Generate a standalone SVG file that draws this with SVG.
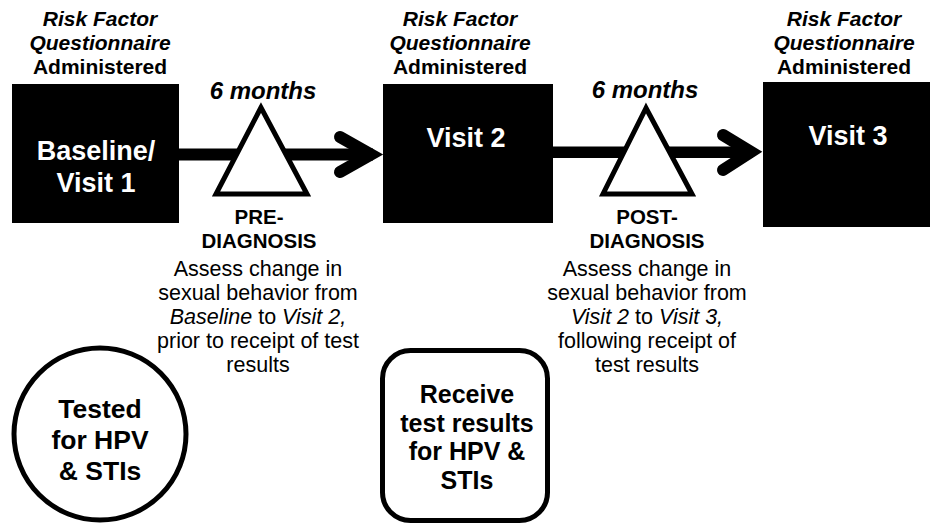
<svg xmlns="http://www.w3.org/2000/svg" width="930" height="524" viewBox="0 0 930 524">
<style>
text{font-family:"Liberation Sans",Arial,sans-serif;text-anchor:middle;fill:#000}
.hdr{font-size:21px;font-weight:bold}
.it{font-style:italic}
.mo{font-size:24px;font-weight:bold;font-style:italic}
.box{fill:#000}
.boxt{font-size:27px;font-weight:bold;fill:#fff}
.lbl{font-size:20.5px;font-weight:bold}
.body{font-size:21.5px}
.tri{fill:#fff;stroke:#000;stroke-width:5;stroke-linejoin:miter}
.shaft{fill:#000}
.head{fill:none;stroke:#000;stroke-width:12;stroke-linecap:round;stroke-linejoin:miter}
.ring{fill:#fff;stroke:#000;stroke-width:5}
.bt{font-size:26.5px;font-weight:bold}
.rt{font-size:25px;font-weight:bold}
</style>
<g id="connectors">
<rect class="shaft" x="178" y="148.5" width="195" height="12"/>
<polyline class="head" points="340,137 371,154.5 340,172"/>
<rect class="shaft" x="552" y="146.5" width="201" height="11.5"/>
<polyline class="head" points="723,135 751,152 723,170"/>
</g>
<g id="visit1">
<text class="hdr" x="100" y="26"><tspan class="it">Risk Factor</tspan><tspan class="it" x="100" dy="24">Questionnaire</tspan><tspan x="100" dy="24">Administered</tspan></text>
<rect class="box" x="12" y="84" width="167" height="139"/>
<text class="boxt" x="96" y="160">Baseline/<tspan x="96" dy="32">Visit 1</tspan></text>
</g>
<g id="visit2">
<text class="hdr" x="460" y="26"><tspan class="it">Risk Factor</tspan><tspan class="it" x="460" dy="24">Questionnaire</tspan><tspan x="460" dy="24">Administered</tspan></text>
<rect class="box" x="383" y="84" width="170" height="139"/>
<text class="boxt" x="466" y="147">Visit 2</text>
</g>
<g id="visit3">
<text class="hdr" x="844" y="26"><tspan class="it">Risk Factor</tspan><tspan class="it" x="844" dy="24">Questionnaire</tspan><tspan x="844" dy="24">Administered</tspan></text>
<rect class="box" x="763" y="82" width="180" height="145"/>
<text class="boxt" x="848" y="145">Visit 3</text>
</g>
<g id="pre-diagnosis">
<text class="mo" x="263" y="99">6 months</text>
<polygon class="tri" points="261,107.5 216,194 307,194"/>
<text class="lbl" x="259" y="224">PRE-<tspan x="259" dy="24">DIAGNOSIS</tspan></text>
<text class="body" x="258" y="276">Assess change in<tspan x="258" dy="24">sexual behavior from</tspan><tspan x="258" dy="24"><tspan class="it">Baseline</tspan> to <tspan class="it">Visit 2,</tspan></tspan><tspan x="258" dy="24">prior to receipt of test</tspan><tspan x="258" dy="24">results</tspan></text>
</g>
<g id="post-diagnosis">
<text class="mo" x="645" y="98">6 months</text>
<polygon class="tri" points="646,108 603,194 692,194"/>
<text class="lbl" x="647" y="224">POST-<tspan x="647" dy="24">DIAGNOSIS</tspan></text>
<text class="body" x="647" y="276">Assess change in<tspan x="647" dy="24">sexual behavior from</tspan><tspan x="647" dy="24"><tspan class="it">Visit 2</tspan> to <tspan class="it">Visit 3,</tspan></tspan><tspan x="647" dy="24">following receipt of</tspan><tspan x="647" dy="24">test results</tspan></text>
</g>
<g id="tested">
<circle class="ring" cx="100" cy="434" r="86"/>
<text class="bt" x="100" y="418">Tested<tspan x="100" dy="31">for HPV</tspan><tspan x="100" dy="31">&amp; STIs</tspan></text>
</g>
<g id="receive">
<rect class="ring" x="382.5" y="350.5" width="165" height="170" rx="28"/>
<text class="rt" x="467" y="403">Receive<tspan x="467" dy="28.5">test results</tspan><tspan x="467" dy="28.5">for HPV &amp;</tspan><tspan x="467" dy="28.5">STIs</tspan></text>
</g>
</svg>
